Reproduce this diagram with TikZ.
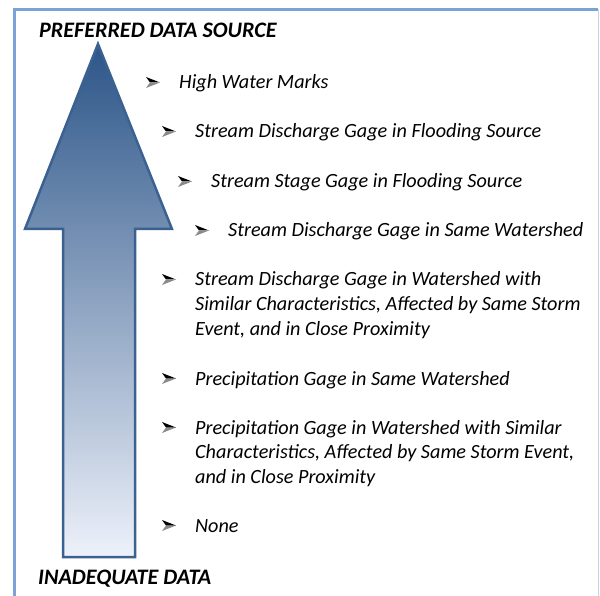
\documentclass[tikz,border=0pt]{standalone}
\usepackage{fontspec}
\setmainfont{Carlito}
\begin{document}
\begin{tikzpicture}[x=1pt,y=-1pt,
  item/.style={anchor=base west,inner sep=0pt,font=\itshape\fontsize{20.2}{24.5}\selectfont},
  title/.style={anchor=base west,inner sep=0pt,font=\bfseries\itshape\fontsize{22.1}{24}\selectfont},
  bulpt/.style={coordinate}]
\definecolor{arrowtop}{HTML}{2C5588}
\definecolor{arrowbot}{HTML}{EDF1FA}
\definecolor{arrowline}{HTML}{3B6191}
\definecolor{framblue}{HTML}{7DA3D6}
\definecolor{framgray}{HTML}{C9D2DE}
\definecolor{bulgray}{HTML}{8A8A8A}
\newcommand{\mybullet}[1]{%
  \fill[black] ([shift={(7,0)}]#1) -- ([shift={(-7,-5.5)}]#1) -- ([shift={(-3,0)}]#1) -- cycle;
  \fill[bulgray] ([shift={(7,0)}]#1) -- ([shift={(-3,0)}]#1) -- ([shift={(-7,5.5)}]#1) -- cycle;}
\useasboundingbox (0,0) rectangle (600,596);
% frame
\draw[framgray,line width=1.5pt] (598.5,9) -- (598.5,600);
\draw[framblue,line width=3pt] (14.5,600) -- (14.5,9.5) -- (598,9.5);
% arrow
\shade[top color=arrowtop,bottom color=arrowbot,draw=arrowline,line width=2.5pt,line join=miter]
  (98,44) -- (172,229) -- (135,229) -- (135,557) -- (63,557) -- (63,229) -- (25,229) -- cycle;
\node[title] (top) at (39,38) {PREFERRED DATA SOURCE};
\node[title] (bot) at (38,584) {INADEQUATE DATA};
% bullets
\coordinate (b1) at (153,82.5);
\coordinate (b2) at (169,131.5);
\coordinate (b3) at (185,181.5);
\coordinate (b4) at (202,230.5);
\coordinate (b5) at (169,279.5);
\coordinate (b6) at (169,378.5);
\coordinate (b7) at (169,427.5);
\coordinate (b8) at (169,525.5);
\foreach \b in {b1,b2,b3,b4,b5,b6,b7,b8} {\mybullet{\b}}
% items
\node[item] (i1) at (179,89) {High Water Marks};
\node[item] (i2) at (195,138) {Stream Discharge Gage in Flooding Source};
\node[item] (i3) at (211,188) {Stream Stage Gage in Flooding Source};
\node[item] (i4) at (228,237) {Stream Discharge Gage in Same Watershed};
\node[item] (i5a) at (195,286) {Stream Discharge Gage in Watershed with};
\node[item] (i5b) at (195,310.5) {Similar Characteristics, Affected by Same Storm};
\node[item] (i5c) at (195,335) {Event, and in Close Proximity};
\node[item] (i6) at (195,385) {Precipitation Gage in Same Watershed};
\node[item] (i7a) at (195,434) {Precipitation Gage in Watershed with Similar};
\node[item] (i7b) at (195,458.5) {Characteristics, Affected by Same Storm Event,};
\node[item] (i7c) at (195,483) {and in Close Proximity};
\node[item] (i8) at (195,532) {None};
\end{tikzpicture}
\end{document}
